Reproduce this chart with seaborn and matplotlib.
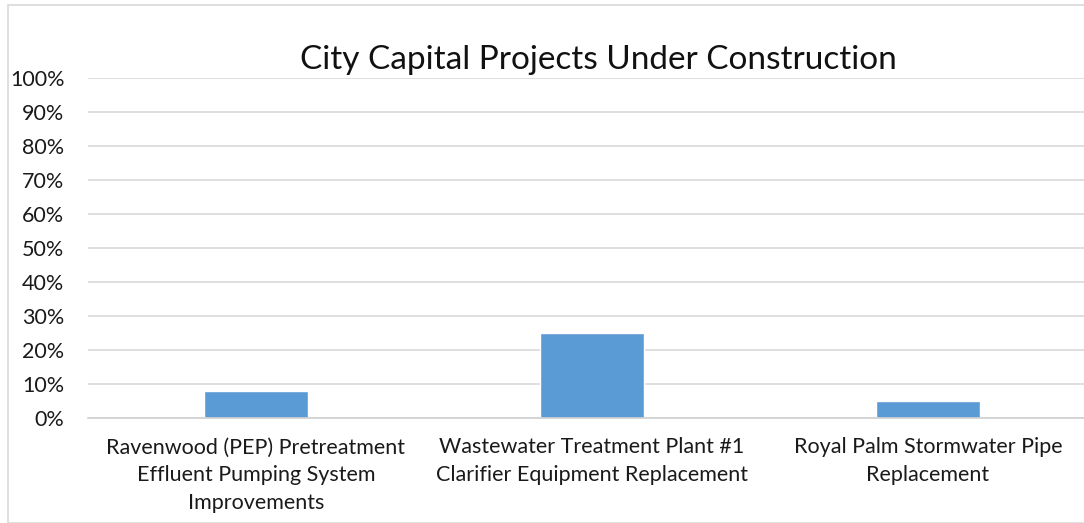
import numpy as np
import pandas as pd
import matplotlib
matplotlib.use("Agg")
import matplotlib.pyplot as plt
from matplotlib.patches import Rectangle
from matplotlib.ticker import PercentFormatter, FixedLocator
import seaborn as sns

projects = [
    "Ravenwood (PEP) Pretreatment\nEffluent Pumping System\nImprovements",
    "Wastewater Treatment Plant #1\nClarifier Equipment Replacement",
    "Royal Palm Stormwater Pipe\nReplacement",
]
percent_complete = [8, 25, 5]
y_ticks = list(range(0, 101, 10))

df = pd.DataFrame({"project": projects, "pct": percent_complete})

sns.set_style("white")
plt.rcParams["font.family"] = ["Lato", "DejaVu Sans"]

fig = plt.figure(figsize=(10.84, 5.23), dpi=100)
ax = fig.add_axes([88 / 1084, 105 / 523, 1008 / 1084, 340 / 523])

sns.barplot(data=df, x="project", y="pct", color="#5B9BD5", width=0.31,
            saturation=1, ax=ax)

ax.set_ylim(0, 100)
ax.set_xlim(-0.5, 2.5)
ax.set_yticks(y_ticks)
ax.yaxis.set_major_formatter(PercentFormatter(decimals=0))
ax.grid(axis="y", color="#d9d9d9", linewidth=1.2)
ax.set_axisbelow(True)
for side in ["top", "right", "left"]:
    ax.spines[side].set_visible(False)
ax.spines["bottom"].set_color("#d0d0d0")
ax.spines["bottom"].set_linewidth(1.2)

ax.tick_params(axis="y", length=0, labelsize=15.5, pad=17, labelcolor="#1a1a1a")
ax.tick_params(axis="x", which="major", length=0, labelsize=15.5, pad=14,
               labelcolor="#1a1a1a")
ax.xaxis.set_minor_locator(FixedLocator([-0.5, 0.5, 1.5, 2.5]))
ax.tick_params(axis="x", which="minor", length=6, color="#d0d0d0", width=1.2)
ax.set_xlabel("")
ax.set_ylabel("")
for lbl in ax.get_xticklabels():
    lbl.set_multialignment("center")
    lbl.set_linespacing(1.5)

fig.text(0.552, 0.885, "City Capital Projects Under Construction",
         ha="center", va="center", fontsize=24, color="#111111")

fig.patches.append(Rectangle((8 / 1084, 0), 1.2, 518 / 523, transform=fig.transFigure,
                             fill=False, edgecolor="#d9d9d9", linewidth=1.2))

fig.savefig("out.png", dpi=100)
